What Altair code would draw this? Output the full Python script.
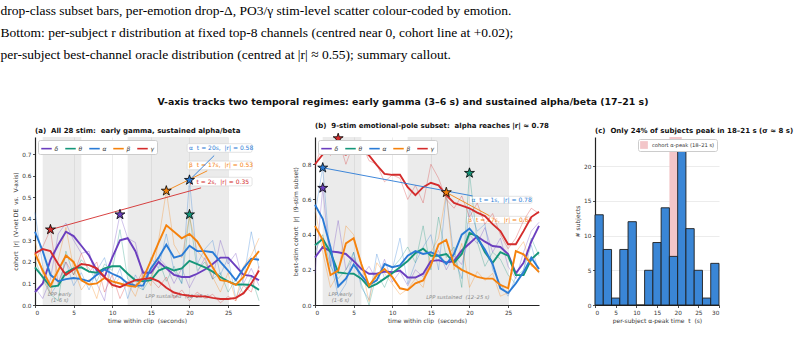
import altair as alt
import pandas as pd

FONT = "DejaVu Sans"
NB = "\u00a0"

seconds = list(range(30))
bands = ["δ", "θ", "α", "β", "γ"]
band_colors = ["#6b3fbf", "#15967a", "#2a7bd6", "#f5820d", "#d42c2c"]

# (a) all 28 stimuli: smoothed cohort |r| per band
a_delta = [0.06, 0.10, 0.21, 0.28, 0.34, 0.32, 0.275, 0.23, 0.16, 0.13, 0.22, 0.30, 0.31, 0.25, 0.15,
           0.15, 0.20, 0.17, 0.14, 0.13, 0.13, 0.145, 0.165, 0.19, 0.22, 0.22, 0.18, 0.14, 0.135, 0.115]
a_theta = [0.175, 0.13, 0.085, 0.09, 0.15, 0.17, 0.175, 0.155, 0.15, 0.17, 0.18, 0.18, 0.145, 0.115, 0.11,
           0.115, 0.16, 0.175, 0.16, 0.17, 0.205, 0.19, 0.175, 0.155, 0.13, 0.11, 0.095, 0.095, 0.093, 0.07]
a_alpha = [0.34, 0.25, 0.14, 0.11, 0.12, 0.125, 0.12, 0.11, 0.14, 0.165, 0.145, 0.13, 0.10, 0.09, 0.09,
           0.17, 0.22, 0.28, 0.22, 0.23, 0.275, 0.25, 0.25, 0.245, 0.20, 0.16, 0.115, 0.17, 0.215, 0.21]
a_beta = [0.24, 0.16, 0.09, 0.16, 0.23, 0.20, 0.115, 0.095, 0.10, 0.125, 0.11, 0.10, 0.09, 0.085, 0.125,
          0.205, 0.29, 0.37, 0.34, 0.31, 0.33, 0.295, 0.235, 0.175, 0.115, 0.11, 0.093, 0.13, 0.205, 0.25]
a_gamma = [0.24, 0.26, 0.25, 0.19, 0.14, 0.165, 0.19, 0.185, 0.17, 0.13, 0.093, 0.083, 0.10, 0.115, 0.12,
           0.125, 0.11, 0.08, 0.058, 0.048, 0.043, 0.04, 0.04, 0.033, 0.028, 0.028, 0.033, 0.055, 0.10, 0.16]

# (a) unsmoothed per-second values
a_delta_raw = [0.08, 0.03, 0.12, 0.33, 0.38, 0.30, 0.24, 0.25, 0.10, 0.02, 0.24, 0.42, 0.31, 0.29, 0.12,
               0.16, 0.22, 0.18, 0.10, 0.17, 0.08, 0.15, 0.22, 0.12, 0.30, 0.19, 0.24, 0.10, 0.17, 0.09]
a_theta_raw = [0.21, 0.12, 0.05, 0.02, 0.25, 0.14, 0.21, 0.17, 0.11, 0.19, 0.16, 0.35, 0.12, 0.09, 0.07,
               0.13, 0.21, 0.11, 0.18, 0.10, 0.42, 0.16, 0.20, 0.12, 0.15, 0.06, 0.12, 0.05, 0.13, 0.02]
a_alpha_raw = [0.43, 0.18, 0.05, 0.10, 0.20, 0.09, 0.15, 0.07, 0.16, 0.22, 0.09, 0.17, 0.03, 0.14, 0.07,
               0.22, 0.17, 0.33, 0.16, 0.10, 0.58, 0.19, 0.26, 0.30, 0.14, 0.22, 0.03, 0.12, 0.34, 0.17]
a_beta_raw = [0.30, 0.14, 0.05, 0.21, 0.36, 0.17, 0.07, 0.12, 0.03, 0.17, 0.08, 0.13, 0.10, 0.04, 0.15,
              0.09, 0.30, 0.53, 0.28, 0.22, 0.41, 0.25, 0.21, 0.13, 0.06, 0.15, 0.02, 0.18, 0.23, 0.31]
a_gamma_raw = [0.20, 0.27, 0.35, 0.10, 0.20, 0.14, 0.24, 0.15, 0.20, 0.06, 0.14, 0.03, 0.11, 0.09, 0.16,
               0.12, 0.08, 0.13, 0.03, 0.07, 0.02, 0.06, 0.03, 0.05, 0.01, 0.04, 0.02, 0.09, 0.06, 0.18]

# (b) 9-stim emotional-pole subset: smoothed best-stim |r|
b_delta = [0.27, 0.33, 0.305, 0.30, 0.29, 0.25, 0.205, 0.178, 0.178, 0.19, 0.187, 0.196, 0.156, 0.156, 0.178,
           0.25, 0.255, 0.242, 0.25, 0.31, 0.35, 0.39, 0.36, 0.335, 0.33, 0.29, 0.18, 0.24, 0.36, 0.45]
b_theta = [0.34, 0.375, 0.30, 0.185, 0.18, 0.178, 0.15, 0.10, 0.12, 0.15, 0.18, 0.215, 0.25, 0.295, 0.32,
           0.28, 0.28, 0.29, 0.24, 0.29, 0.41, 0.39, 0.30, 0.24, 0.30, 0.28, 0.17, 0.17, 0.26, 0.30]
b_alpha = [0.57, 0.49, 0.33, 0.105, 0.15, 0.23, 0.17, 0.115, 0.14, 0.233, 0.215, 0.225, 0.28, 0.306, 0.29,
           0.30, 0.28, 0.233, 0.29, 0.40, 0.435, 0.38, 0.315, 0.233, 0.095, 0.068, 0.123, 0.187, 0.27, 0.205]
b_beta = [0.45, 0.37, 0.17, 0.196, 0.35, 0.38, 0.233, 0.11, 0.17, 0.205, 0.16, 0.095, 0.086, 0.123, 0.14,
          0.225, 0.345, 0.37, 0.23, 0.20, 0.18, 0.16, 0.15, 0.15, 0.114, 0.095, 0.306, 0.288, 0.233, 0.187]
b_gamma = [0.80, 0.856, 0.88, 0.87, 0.855, 0.88, 0.89, 0.85, 0.795, 0.745, 0.74, 0.74, 0.67, 0.625, 0.67,
           0.695, 0.68, 0.625, 0.58, 0.565, 0.55, 0.525, 0.505, 0.46, 0.42, 0.345, 0.345, 0.42, 0.50, 0.53]

# (b) unsmoothed per-second values
b_delta_raw = [0.18, 0.665, 0.22, 0.48, 0.20, 0.27, 0.16, 0.22, 0.14, 0.26, 0.13, 0.19, 0.11, 0.20, 0.16,
               0.24, 0.31, 0.20, 0.28, 0.23, 0.40, 0.35, 0.44, 0.30, 0.38, 0.22, 0.15, 0.30, 0.42, 0.47]
b_theta_raw = [0.30, 0.40, 0.22, 0.15, 0.20, 0.30, 0.12, 0.00, 0.18, 0.10, 0.21, 0.26, 0.33, 0.24, 0.45,
               0.20, 0.50, 0.27, 0.33, 0.10, 0.75, 0.36, 0.22, 0.30, 0.26, 0.17, 0.12, 0.20, 0.38, 0.28]
b_alpha_raw = [0.52, 0.78, 0.25, 0.05, 0.12, 0.30, 0.10, 0.03, 0.29, 0.15, 0.20, 0.38, 0.12, 0.24, 0.33,
               0.40, 0.20, 0.63, 0.27, 0.15, 0.55, 0.42, 0.46, 0.20, 0.12, 0.05, 0.16, 0.20, 0.34, 0.18]
b_beta_raw = [0.55, 0.30, 0.10, 0.18, 0.45, 0.40, 0.22, 0.02, 0.24, 0.18, 0.12, 0.06, 0.09, 0.15, 0.10,
              0.30, 0.38, 0.64, 0.20, 0.35, 0.10, 0.19, 0.14, 0.18, 0.05, 0.07, 0.30, 0.36, 0.22, 0.21]
b_gamma_raw = [0.78, 0.93, 0.85, 0.947, 0.80, 0.92, 0.92, 0.82, 0.80, 0.70, 0.74, 0.72, 0.60, 0.68, 0.58,
               0.80, 0.72, 0.60, 0.55, 0.62, 0.50, 0.58, 0.46, 0.52, 0.40, 0.32, 0.38, 0.48, 0.55, 0.52]

# per-band peaks (band, second, |r|)
a_peak_band = ["γ", "δ", "β", "α", "θ"]
a_peak_t = [2, 11, 17, 20, 20]
a_peak_r = [0.35, 0.42, 0.53, 0.58, 0.42]
b_peak_band = ["γ", "δ", "α", "β", "θ"]
b_peak_t = [3, 1, 1, 17, 20]
b_peak_r = [0.947, 0.665, 0.78, 0.64, 0.75]

# (c) per-subject alpha-peak time histogram (2 s bins)
bin_start = [0, 2, 4, 6, 8, 10, 12, 14, 16, 18, 20, 22, 24, 26, 28]
bin_count = [13, 8, 1, 8, 12, 0, 5, 9, 14, 7, 23, 11, 5, 1, 6]

caption_lines = [
    "drop-class subset bars, per-emotion drop-Δ, PO3/γ stim-level scatter colour-coded by emotion.",
    "Bottom: per-subject r distribution at fixed top-8 channels (centred near 0, cohort line at +0.02);",
    "per-subject best-channel oracle distribution (centred at |r| ≈ 0.55); summary callout.",
]
fig_title = "V-axis tracks two temporal regimes: early gamma (3–6 s) and sustained alpha/beta (17–21 s)"

STAR = ("M0,-1 L0.2245,-0.309 L0.9511,-0.309 L0.3633,0.118 L0.5878,0.809 "
        "L0,0.382 L-0.5878,0.809 L-0.3633,0.118 L-0.9511,-0.309 L-0.2245,-0.309 Z")

PANEL_H = 168


def sp(text):
    """Keep doubled spaces visible in SVG text."""
    return text.replace("  ", " " + NB)


def long_frame(series):
    rows = []
    for b, vals in zip(bands, series):
        for s, v in zip(seconds, vals):
            rows.append({"t": s, "r": v, "band": b})
    return pd.DataFrame(rows)


def time_panel(smooth, raw, peak_band, peak_t, peak_r, notes, ymax, yticks, ytitle, title, lpp):
    xs = alt.Scale(domain=[0, 29], nice=False, zero=False)
    ys = alt.Scale(domain=[0, ymax], nice=False, zero=False)
    x_axis = alt.Axis(values=[0, 5, 10, 15, 20, 25], format="d")
    y_axis = alt.Axis(values=yticks, format=".1f")
    x_title = sp("time within clip  (seconds)")
    x_enc = alt.X("t:Q", scale=xs, title=x_title, axis=x_axis)
    y_enc = alt.Y("r:Q", scale=ys, title=sp(ytitle), axis=y_axis)
    legend = alt.Legend(
        orient="top-left", direction="horizontal", title=None, symbolType="stroke",
        symbolStrokeWidth=1.6, symbolSize=110, symbolOpacity=1, labelFontSize=6,
        labelFontStyle="italic", labelFont=FONT, labelColor="#333", fillColor="white",
        strokeColor="#cccccc", padding=2, offset=3, columnPadding=3, labelOffset=1.5, cornerRadius=2)
    col = alt.Color("band:N", scale=alt.Scale(domain=bands, range=band_colors), sort=bands, legend=legend)

    shade = alt.Chart(pd.DataFrame({"t": [1, 12], "t_end": [6, 25]})).mark_rect(
        color="#b0b0b0", opacity=0.25
    ).encode(x=x_enc, x2="t_end:Q",
             y=alt.Y(datum=0, scale=ys, title=sp(ytitle), axis=y_axis), y2=alt.Y2(datum=ymax))

    lpp_text = alt.Chart(pd.DataFrame(lpp)).mark_text(
        font=FONT, fontSize=5.2, fontStyle="italic", color="#8a8a8a", lineBreak="\n", lineHeight=6
    ).encode(x=x_enc, y=y_enc, text="label:N")

    raw_lines = alt.Chart(long_frame(raw)).mark_line(strokeWidth=0.9, opacity=0.35).encode(
        x=x_enc, y=y_enc, color=col, detail="band:N")

    smooth_lines = alt.Chart(long_frame(smooth)).mark_line(strokeWidth=1.9).encode(
        x=x_enc, y=y_enc, color=col)

    peaks = pd.DataFrame({"band": peak_band, "t": peak_t, "r": peak_r})
    nt = pd.DataFrame(notes).merge(peaks, on="band")
    nt["label"] = [sp(f"{b}  t = {s}s,  |r| = {v:.2f}") for b, s, v in zip(nt["band"], nt["t"], nt["r"])]

    leaders = alt.Chart(nt).mark_rule(strokeWidth=0.9).encode(
        x=x_enc, y=y_enc, x2="lx:Q", y2="ly:Q", color=col)
    boxes = alt.Chart(nt).mark_rect(fill="white", stroke="#d0d0d0", strokeWidth=0.6,
                                    cornerRadius=1.5).encode(
        x=alt.X("bx0:Q", scale=xs, title=x_title, axis=x_axis), x2="bx1:Q",
        y=alt.Y("by0:Q", scale=ys, title=sp(ytitle), axis=y_axis), y2="by1:Q")
    labels = alt.Chart(nt).mark_text(font=FONT, fontSize=6, align="left", baseline="middle").encode(
        x=alt.X("tx:Q", scale=xs, title=x_title, axis=x_axis),
        y=alt.Y("ty:Q", scale=ys, title=sp(ytitle), axis=y_axis), text="label:N", color=col)

    stars = alt.Chart(peaks).mark_point(shape=STAR, size=110, filled=True, stroke="black",
                                        strokeWidth=0.8, opacity=1).encode(
        x=x_enc, y=y_enc, fill=alt.Fill("band:N", scale=alt.Scale(domain=bands, range=band_colors),
                                        legend=None))

    return alt.layer(shade, lpp_text, boxes, labels, raw_lines, smooth_lines, leaders, stars).properties(
        width=224, height=PANEL_H, title=sp(title))


notes_a = [
    {"band": "α", "tx": 19.95, "ty": 0.729, "bx0": 19.7, "bx1": 28.1, "by0": 0.709, "by1": 0.749, "lx": 23.2, "ly": 0.694},
    {"band": "β", "tx": 19.95, "ty": 0.648, "bx0": 19.7, "bx1": 28.1, "by0": 0.628, "by1": 0.668, "lx": 22.3, "ly": 0.623},
    {"band": "γ", "tx": 19.95, "ty": 0.573, "bx0": 19.7, "bx1": 28.1, "by0": 0.553, "by1": 0.593, "lx": 21.5, "ly": 0.544},
]
notes_b = [
    {"band": "α", "tx": 20.25, "ty": 0.598, "bx0": 20.0, "bx1": 28.1, "by0": 0.578, "by1": 0.618, "lx": 20.4, "ly": 0.62},
    {"band": "β", "tx": 19.85, "ty": 0.484, "bx0": 19.6, "bx1": 27.8, "by0": 0.464, "by1": 0.504, "lx": 22.6, "ly": 0.507},
]
lpp_a = [{"t": 3.2, "r": 0.052, "label": "LPP early\n(1–6 s)"},
         {"t": 18.4, "r": 0.041, "label": sp("LPP sustained  (12–25 s)")}]
lpp_b = [{"t": 3.3, "r": 0.06, "label": "LPP early\n(1–6 s)"},
         {"t": 18.5, "r": 0.047, "label": sp("LPP sustained  (12–25 s)")}]

panel_a = time_panel(
    [a_delta, a_theta, a_alpha, a_beta, a_gamma],
    [a_delta_raw, a_theta_raw, a_alpha_raw, a_beta_raw, a_gamma_raw],
    a_peak_band, a_peak_t, a_peak_r, notes_a, 0.78,
    [0.0, 0.1, 0.2, 0.3, 0.4, 0.5, 0.6, 0.7],
    "cohort  |r|  (V-net DE  vs.  V-axis)",
    "(a)  All 28 stim:  early gamma, sustained alpha/beta", lpp_a)

panel_b = time_panel(
    [b_delta, b_theta, b_alpha, b_beta, b_gamma],
    [b_delta_raw, b_theta_raw, b_alpha_raw, b_beta_raw, b_gamma_raw],
    b_peak_band, b_peak_t, b_peak_r, notes_b, 0.955,
    [0.0, 0.2, 0.4, 0.6, 0.8],
    "best-stim cohort  |r|  (9-stim subset)",
    "(b)  9-stim emotional-pole subset:  alpha reaches |r| ≈ 0.78", lpp_b)

# (c) histogram with the cohort alpha-peak window
hx = alt.Scale(domain=[0, 30], nice=False, zero=False)
hy = alt.Scale(domain=[0, 24.2], nice=False, zero=False)
hx_axis = alt.Axis(values=[0, 5, 10, 15, 20, 25, 30], grid=False, format="d")
hy_axis = alt.Axis(values=[0, 5, 10, 15, 20], grid=True)
hx_title = sp("per-subject α-peak time  t  (s)")
hist_df = pd.DataFrame({"start": bin_start, "count": bin_count})
window = alt.Chart(pd.DataFrame({"start": [18], "end": [21], "lab": ["cohort α-peak (18–21 s)"]})).mark_rect(
    opacity=1
).encode(
    x=alt.X("start:Q", scale=hx, title=hx_title, axis=hx_axis),
    x2="end:Q",
    y=alt.Y(datum=0, scale=hy, title="# subjects", axis=hy_axis),
    y2=alt.Y2(datum=24.2),
    color=alt.Color("lab:N", scale=alt.Scale(range=["#f3c6c9"]), legend=alt.Legend(
        orient="top-right", title=None, symbolType="square", symbolSize=60, labelFontSize=5.2,
        labelFont=FONT, labelColor="#333", fillColor="white", strokeColor="#cccccc",
        padding=2, offset=2, cornerRadius=2, symbolStrokeWidth=0)),
)
bars = alt.Chart(hist_df).transform_calculate(end="datum.start + 2").mark_rect(
    fill="#3a86d6", stroke="#1e1e1e", strokeWidth=0.9
).encode(
    x=alt.X("start:Q", scale=hx, title=hx_title, axis=hx_axis), x2="end:Q",
    y=alt.Y("count:Q", scale=hy, title="# subjects", axis=hy_axis), y2=alt.Y2(datum=0),
)
panel_c = alt.layer(window, bars).properties(
    width=124, height=PANEL_H, title=sp("(c)  Only 24% of subjects peak in 18–21 s (σ ≈ 8 s)"))

row = alt.hconcat(panel_a, panel_b, panel_c, spacing=56, bounds="flush").resolve_scale(
    color="independent", fill="independent").resolve_legend(color="independent", fill="independent").properties(
    title=alt.Title(fig_title, fontSize=9.4, anchor="middle", frame="bounds", offset=14,
                    font=FONT, fontWeight="bold", color="#111"))

chart = alt.vconcat(row).properties(
    title=alt.Title(caption_lines, font="Liberation Serif", fontSize=13.5, fontWeight="normal",
                    lineHeight=22, anchor="start", frame="group", dx=-34.5, offset=36, color="black"),
    padding={"left": 0, "top": 3, "right": 0, "bottom": 0},
).configure_view(stroke=None).configure_axis(
    labelFont=FONT, titleFont=FONT, labelFontSize=5.8, titleFontSize=6, titleFontWeight="normal",
    labelColor="#333", titleColor="#333", domainColor="#222", domainWidth=1.2, tickColor="#222",
    tickSize=2.5, tickWidth=0.8, gridColor="#e4e4e4", gridWidth=0.7, labelPadding=1.5, titlePadding=3,
).configure_title(
    font=FONT, fontSize=7, fontWeight="bold", anchor="start", frame="group", offset=3, color="#111"
)

chart.save("out.html", embed_options={"renderer": "svg", "actions": False})
